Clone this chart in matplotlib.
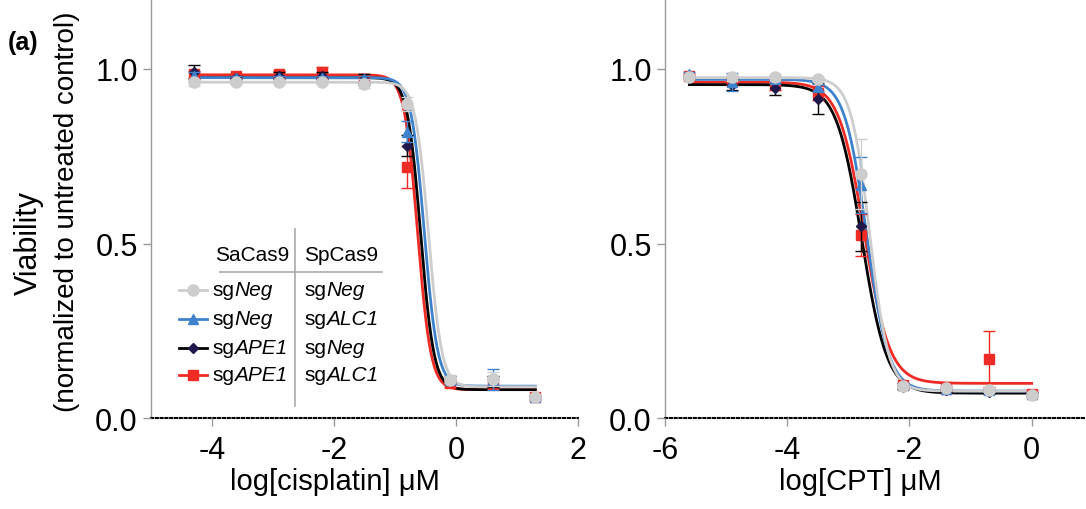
import numpy as np
import matplotlib.pyplot as plt

plt.rcParams['font.family'] = ['Liberation Sans', 'DejaVu Sans']
plt.rcParams['axes.unicode_minus'] = False

# cisplatin panel data (log uM)
cis_x = [-4.3, -3.6, -2.9, -2.2, -1.5, -0.8, -0.1, 0.6, 1.3]
cis_gray = [0.962, 0.962, 0.962, 0.962, 0.958, 0.90, 0.11, 0.112, 0.061]
cis_gray_err = [0.01, 0.005, 0.005, 0.005, 0.012, 0.02, 0.01, 0.02, 0.005]
cis_blue = [0.98, 0.975, 0.975, 0.975, 0.97, 0.82, 0.11, 0.11, 0.06]
cis_blue_err = [0.01, 0.005, 0.005, 0.005, 0.01, 0.03, 0.01, 0.03, 0.005]
cis_black = [0.99, 0.975, 0.98, 0.98, 0.97, 0.78, 0.11, 0.105, 0.06]
cis_black_err = [0.02, 0.005, 0.01, 0.01, 0.015, 0.03, 0.01, 0.015, 0.005]
cis_red = [0.985, 0.98, 0.985, 0.99, 0.97, 0.72, 0.10, 0.10, 0.06]
cis_red_err = [0.01, 0.005, 0.01, 0.015, 0.01, 0.06, 0.01, 0.015, 0.005]

# CPT panel data (log uM)
cpt_x = [-5.6, -4.9, -4.2, -3.5, -2.8, -2.1, -1.4, -0.7, 0.0]
cpt_gray = [0.976, 0.976, 0.976, 0.971, 0.70, 0.092, 0.086, 0.081, 0.066]
cpt_gray_err = [0.005, 0.01, 0.01, 0.005, 0.10, 0.005, 0.005, 0.005, 0.005]
cpt_blue = [0.985, 0.962, 0.97, 0.948, 0.667, 0.095, 0.085, 0.08, 0.07]
cpt_blue_err = [0.005, 0.025, 0.01, 0.01, 0.08, 0.005, 0.005, 0.005, 0.005]
cpt_black = [0.975, 0.955, 0.945, 0.915, 0.55, 0.09, 0.08, 0.075, 0.068]
cpt_black_err = [0.005, 0.015, 0.02, 0.045, 0.07, 0.005, 0.005, 0.005, 0.005]
cpt_red = [0.98, 0.965, 0.955, 0.93, 0.525, 0.095, 0.085, 0.17, 0.07]
cpt_red_err = [0.005, 0.01, 0.015, 0.02, 0.06, 0.005, 0.005, 0.08, 0.005]

# 4PL fit parameters: top, bottom, logIC50, hill
cis_fits = {'gray': (0.962, 0.09, -0.45, 4.0), 'blue': (0.975, 0.092, -0.52, 4.0),
            'black': (0.975, 0.082, -0.58, 4.0), 'red': (0.983, 0.082, -0.63, 4.0)}
cpt_fits = {'gray': (0.975, 0.078, -2.65, 2.8), 'blue': (0.97, 0.078, -2.70, 2.4),
            'black': (0.955, 0.072, -2.78, 2.1), 'red': (0.962, 0.10, -2.74, 2.1)}

colors = {'gray': '#cdcdcd', 'blue': '#3f82cc', 'black': '#000000', 'red': '#ee2b25'}
mfc = {'gray': '#cdcdcd', 'blue': '#3f82cc', 'black': '#21184a', 'red': '#ee2b25'}
markers = {'gray': 'o', 'blue': '^', 'black': 'D', 'red': 's'}
msize = {'gray': 8, 'blue': 7, 'black': 5, 'red': 7}
order = ['red', 'black', 'blue', 'gray']


def four_pl(x, top, bottom, logic50, hill):
    return bottom + (top - bottom) / (1 + 10 ** ((x - logic50) * hill))


fig = plt.figure(figsize=(10.86, 5.10), dpi=100)
ax1 = fig.add_axes([151 / 1086, 1 - 419.3 / 510, 427 / 1086, 419.3 / 510])
ax2 = fig.add_axes([665 / 1086, 1 - 419.3 / 510, 421 / 1086, 419.3 / 510])

panels = [
    (ax1, cis_x, {'gray': (cis_gray, cis_gray_err), 'blue': (cis_blue, cis_blue_err),
                  'black': (cis_black, cis_black_err), 'red': (cis_red, cis_red_err)},
     cis_fits, (-5, 2), [-4, -2, 0, 2], 'log[cisplatin] μM', 0.43),
    (ax2, cpt_x, {'gray': (cpt_gray, cpt_gray_err), 'blue': (cpt_blue, cpt_blue_err),
                  'black': (cpt_black, cpt_black_err), 'red': (cpt_red, cpt_red_err)},
     cpt_fits, (-6, 0.89), [-6, -4, -2, 0], 'log[CPT] μM', 0.465),
]

for ax, xs, series, fits, xlim, xticks, xlabel, lx in panels:
    xfit = np.linspace(min(xs), max(xs), 400)
    for i, key in enumerate(order):
        ys, err = series[key]
        ax.plot(xfit, four_pl(xfit, *fits[key]), color=colors[key], lw=2, zorder=2 + i)
        ax.errorbar(xs, ys, yerr=err, fmt=markers[key], color=colors[key],
                    mfc=mfc[key], mec=mfc[key], ms=msize[key], capsize=4,
                    elinewidth=1, capthick=1, zorder=6 + i)
    ax.set_xlim(*xlim)
    ax.set_ylim(0, 1.2)
    ax.set_xticks(xticks)
    ax.set_yticks([0.0, 0.5, 1.0])
    ax.set_yticklabels(['0.0', '0.5', '1.0'])
    ax.set_xlabel(xlabel, fontsize=21)
    ax.xaxis.set_label_coords(lx, -0.115)
    ax.spines['top'].set_visible(False)
    ax.spines['right'].set_visible(False)
    ax.spines['left'].set_color('#999999')
    ax.spines['left'].set_linewidth(1)
    ax.spines['bottom'].set_linestyle((0, (1, 1.3)))
    ax.spines['bottom'].set_linewidth(1.5)
    ax.tick_params(axis='both', labelsize=22, color='#999999', length=6, width=1)
    ax.tick_params(axis='x', pad=6)
    for sp in ax.spines.values():
        sp.set_zorder(1)

# y label: two lines placed separately, as in the figure
fig.text(29 / 1086, 1 - 243 / 510, 'Viability', fontsize=22, rotation=90,
         ha='center', va='center')
fig.text(67 / 1086, 1 - 212 / 510, '(normalized to untreated control)', fontsize=20,
         rotation=90, ha='center', va='center')

fig.text(8 / 1086, 1 - 43 / 510, '(a)', fontsize=18, fontweight='bold', va='center')


# custom table-style legend
def fx(px):
    return (px - 151) / 427


def fy(py):
    return (419.3 - py) / 419.3


def sg_label(x, y, name):
    t = ax1.text(x, y, 'sg', transform=ax1.transAxes, fontsize=15, va='center')
    ax1.annotate(name, xy=(1, 0), xycoords=t, fontsize=15, style='italic',
                 va='bottom', ha='left')


leg_rows = [('gray', 'Neg', 'Neg'),
            ('blue', 'Neg', 'ALC1'),
            ('black', 'APE1', 'Neg'),
            ('red', 'APE1', 'ALC1')]
row_y = [291, 320, 349, 376]

ax1.text(fx(215), fy(256), 'SaCas9', transform=ax1.transAxes, fontsize=15, va='center')
ax1.text(fx(304), fy(256), 'SpCas9', transform=ax1.transAxes, fontsize=15, va='center')
ax1.plot([fx(220), fx(382)], [fy(273), fy(273)], transform=ax1.transAxes,
         color='#aaaaaa', lw=1.2, clip_on=False)
ax1.plot([fx(295), fx(295)], [fy(230), fy(407)], transform=ax1.transAxes,
         color='#aaaaaa', lw=1.2, clip_on=False)
for (key, s1, s2), py in zip(leg_rows, row_y):
    ax1.plot([fx(179), fx(207)], [fy(py), fy(py)], transform=ax1.transAxes,
             color=colors[key], lw=2, clip_on=False)
    ax1.plot([fx(193)], [fy(py)], transform=ax1.transAxes, marker=markers[key],
             color=mfc[key], ms=msize[key], clip_on=False)
    sg_label(fx(212), fy(py), s1)
    sg_label(fx(304), fy(py), s2)

plt.savefig('out.png', dpi=100)
